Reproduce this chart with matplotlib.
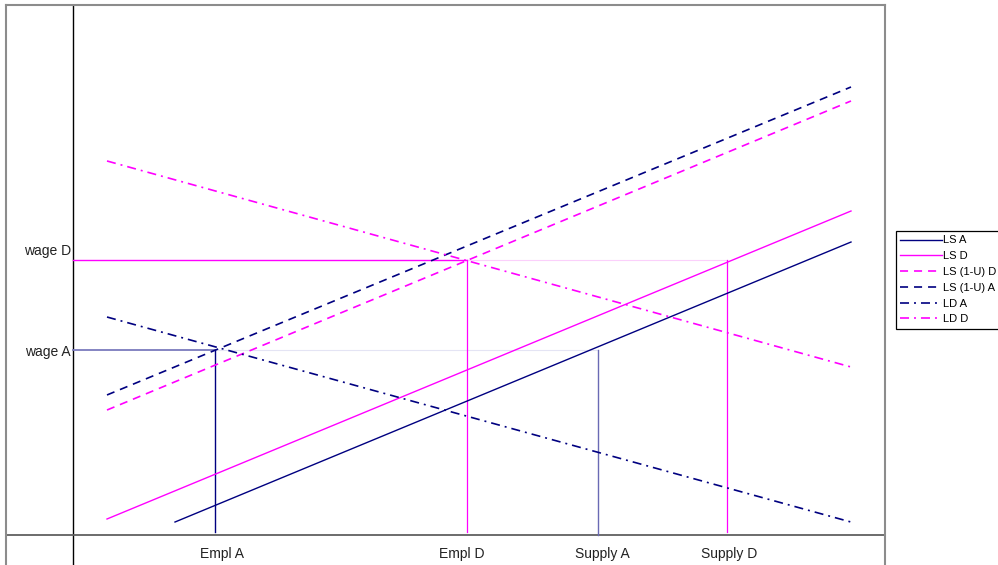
import matplotlib
matplotlib.use("Agg")
import matplotlib.pyplot as plt

plt.rcParams['font.family'] = ['Liberation Sans', 'DejaVu Sans']
plt.rcParams['lines.scale_dashes'] = False

NAVY = '#000080'
MAGENTA = '#ff00ff'

# line end points (x, y) in chart units
x_line = [4.37, 100]
x_ls_a = [13.11, 100]
ls_a = [2.45, 55.28]
ls_d = [3.02, 61.13]
ls_u_d = [23.58, 81.89]
ls_u_a = [26.42, 84.53]
ld_a = [41.13, 2.45]
ld_d = [70.57, 31.70]

# equilibrium markers
wage_a = 34.91
wage_d = 51.89
empl_a = 18.25
empl_d = 50.64
supply_a = 67.48
supply_d = 84.06
line_floor = 0.57

x_tick_pos = [19.15, 50.0, 68.0, 84.3]
x_tick_labels = ['Empl A', 'Empl D', 'Supply A', 'Supply D']
y_tick_pos = [53.6, 34.5]
y_tick_labels = ['wage D', 'wage A']

fig = plt.figure(figsize=(9.98, 5.65), dpi=100)
ax = fig.add_axes([6 / 998, 0, 879 / 998, 560 / 565])
ax.set_xlim(-8.612, 104.37)
ax.set_ylim(-5.66, 100)
ax.set_xticks([])
ax.set_yticks([])
for side in ['top', 'left', 'right']:
    ax.spines[side].set_color('#8c8c8c')
    ax.spines[side].set_linewidth(1.5)
ax.spines['bottom'].set_visible(False)

# axes through the origin
ax.axvline(0, color='black', lw=1.0)
ax.axhline(0, color='#606060', lw=1.3)

# wage / employment guide lines
ax.plot([0, empl_d], [wage_d, wage_d], color=MAGENTA, lw=1.0)
ax.plot([empl_d, supply_d], [wage_d, wage_d], color='#fbd0fb', lw=0.8)
ax.plot([0, empl_a], [wage_a, wage_a], color='#7b7bbd', lw=1.3)
ax.plot([empl_a, supply_a], [wage_a, wage_a], color='#e4e4f4', lw=0.8)
ax.plot([empl_a, empl_a], [line_floor, wage_a], color=NAVY, lw=1.0)
ax.plot([empl_d, empl_d], [line_floor, wage_d], color=MAGENTA, lw=0.9)
ax.plot([supply_a, supply_a], [0, wage_a], color='#6a6ab4', lw=1.0)
ax.plot([supply_d, supply_d], [line_floor, wage_d], color=MAGENTA, lw=0.9)

dash = (0, (5.8, 4.3))
dashdot = (0, (6.5, 3.6, 1.4, 3.6))

ax.plot(x_ls_a, ls_a, color=NAVY, lw=1.0, label='LS A')
ax.plot(x_line, ls_d, color=MAGENTA, lw=1.0, label='LS D')
ax.plot(x_line, ls_u_d, color=MAGENTA, lw=1.2, linestyle=dash, label='LS (1-U) D')
ax.plot(x_line, ls_u_a, color=NAVY, lw=1.2, linestyle=dash, label='LS (1-U) A')
ax.plot(x_line, ld_a, color=NAVY, lw=1.2, linestyle=dashdot, label='LD A')
ax.plot(x_line, ld_d, color=MAGENTA, lw=1.2, linestyle=dashdot, label='LD D')

for xp, lab in zip(x_tick_pos, x_tick_labels):
    ax.text(xp, -3.5, lab, ha='center', va='center', fontsize=10, color='#222222')
for yp, lab in zip(y_tick_pos, y_tick_labels):
    ax.text(-0.3, yp, lab, ha='right', va='center', fontsize=10, color='#222222')

leg = fig.legend(loc='upper left', bbox_to_anchor=(896 / 998, 1 - 231 / 565),
                 bbox_transform=fig.transFigure, borderaxespad=0, fontsize=8,
                 frameon=True, fancybox=False, edgecolor='black', framealpha=1,
                 handlelength=3.7, handletextpad=0.1, labelspacing=0.52,
                 borderpad=0.4)
leg.get_frame().set_linewidth(0.9)

fig.savefig('out.png', dpi=100)
